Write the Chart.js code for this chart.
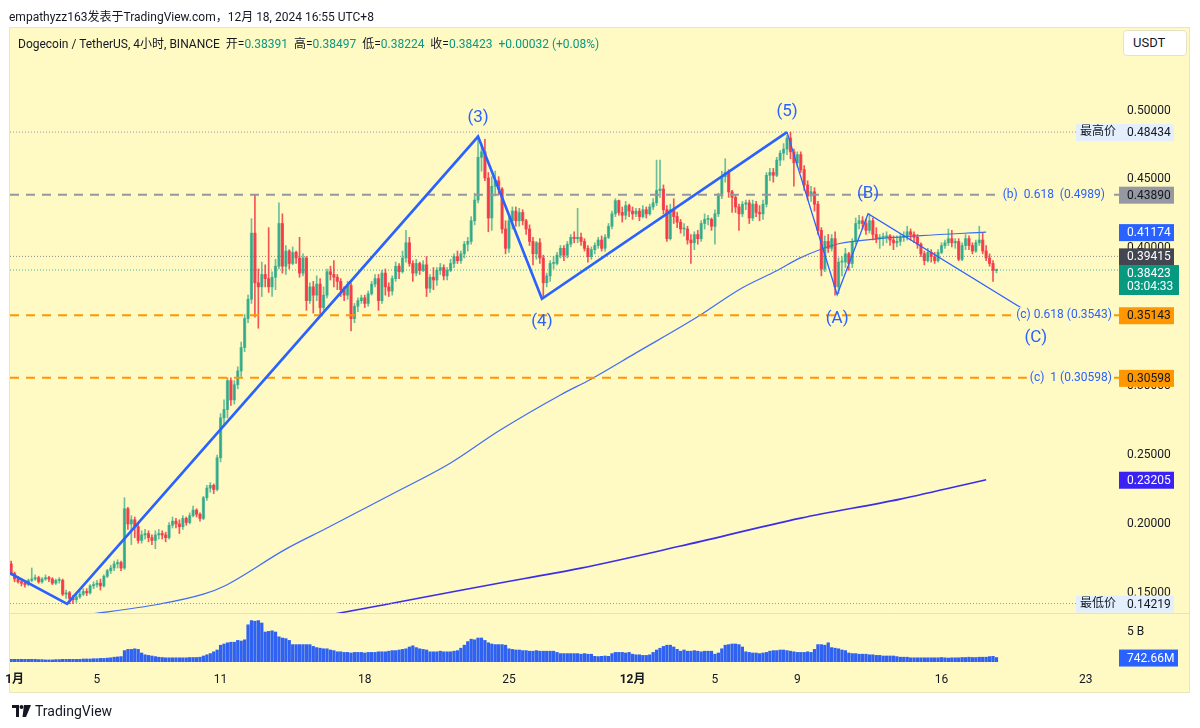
<!DOCTYPE html>
<html>
<head>
<meta charset="utf-8">
<script src="https://cdn.jsdelivr.net/npm/chart.js@4.4.1/dist/chart.umd.min.js"></script>
<style>
  body { margin: 0; width: 1200px; height: 728px; overflow: hidden; position: relative; background: #fff;
         font-family: Roboto, "Noto Sans CJK SC", sans-serif; color: #131722; }
  #chart { position: absolute; left: 0; top: 0; }
  .txt { position: absolute; white-space: nowrap; }
  .g { color: #089981; }
  #usdt { position: absolute; left: 1123px; top: 30px; width: 62px; height: 24px; background: #fff;
          border: 1px solid #e6e2c6; border-radius: 4px; font-size: 13px; line-height: 24px; text-indent: 9px; }
  #logo { position: absolute; left: 12px; top: 703px; font-size: 14px; display: flex; align-items: center; }
</style>
</head>
<body>
<canvas id="chart" width="1200" height="728"></canvas>
<div class="txt" style="left:9px;top:7px;font-size:12px;">empathyzz163发表于TradingView.com，12月 18, 2024 16:55 UTC+8</div>
<div class="txt" style="left:18px;top:34px;font-size:12px;">Dogecoin / TetherUS, 4小时, BINANCE&nbsp; 开=<span class="g">0.38391</span>&nbsp; 高=<span class="g">0.38497</span>&nbsp; 低=<span class="g">0.38224</span>&nbsp; 收=<span class="g">0.38423</span>&nbsp; <span class="g">+0.00032 (+0.08%)</span></div>
<div id="usdt">USDT</div>
<div id="logo">
  <svg width="19" height="12" viewBox="0 0 19 12"><path d="M0 0h7v12H4V3H0z" fill="#131722"/><circle cx="9.5" cy="2" r="2" fill="#131722"/><path d="M12 0h7l-5 12h-3.5z" fill="#131722"/></svg>
  <span style="margin-left:4px;">TradingView</span>
</div>
<script>
// 4小时K线 (索引0 = 10月31日 20:00, 之后每根+4h)
var FIRST_OPEN = 0.171;
var closes = [
  0.164,
  0.160, 0.158, 0.157, 0.156, 0.159, 0.160,
  0.161, 0.158, 0.160, 0.161, 0.160, 0.157,
  0.159, 0.159, 0.149, 0.150, 0.146, 0.145,
  0.147, 0.149, 0.151, 0.150, 0.155, 0.156,
  0.157, 0.155, 0.162, 0.166, 0.168, 0.171,
  0.172, 0.168, 0.211, 0.200, 0.203, 0.198,
  0.188, 0.192, 0.193, 0.190, 0.188, 0.192,
  0.193, 0.192, 0.190, 0.199, 0.202, 0.200,
  0.198, 0.204, 0.201, 0.206, 0.210, 0.207,
  0.204, 0.219, 0.226, 0.228, 0.225, 0.248,
  0.277, 0.283, 0.304, 0.290, 0.301, 0.311,
  0.328, 0.349, 0.363, 0.411, 0.375, 0.372,
  0.381, 0.378, 0.372, 0.379, 0.387, 0.418,
  0.387, 0.398, 0.389, 0.397, 0.393, 0.382,
  0.393, 0.362, 0.372, 0.366, 0.374, 0.357,
  0.366, 0.383, 0.381, 0.379, 0.376, 0.370,
  0.366, 0.373, 0.349, 0.358, 0.362, 0.364,
  0.360, 0.367, 0.374, 0.378, 0.362, 0.382,
  0.372, 0.369, 0.378, 0.387, 0.383, 0.393,
  0.404, 0.389, 0.382, 0.389, 0.384, 0.388,
  0.371, 0.379, 0.377, 0.384, 0.386, 0.380,
  0.384, 0.389, 0.394, 0.391, 0.396, 0.403,
  0.405, 0.420, 0.435, 0.466, 0.470, 0.451,
  0.422, 0.445, 0.449, 0.443, 0.414, 0.400,
  0.420, 0.427, 0.420, 0.426, 0.420, 0.414,
  0.405, 0.396, 0.404, 0.393, 0.375, 0.380,
  0.389, 0.389, 0.395, 0.400, 0.395, 0.403,
  0.408, 0.407, 0.408, 0.405, 0.400, 0.394,
  0.399, 0.402, 0.406, 0.400, 0.408, 0.416,
  0.425, 0.4346, 0.426, 0.424, 0.431, 0.427,
  0.425, 0.427, 0.423, 0.428, 0.425, 0.430,
  0.433, 0.442, 0.443, 0.428, 0.407, 0.428,
  0.423, 0.419, 0.414, 0.414, 0.406, 0.404,
  0.410, 0.407, 0.418, 0.421, 0.421, 0.416,
  0.425, 0.438, 0.452, 0.455, 0.441, 0.437,
  0.430, 0.425, 0.432, 0.433, 0.422, 0.432,
  0.426, 0.425, 0.432, 0.453, 0.455, 0.453,
  0.464, 0.469, 0.472, 0.480, 0.470, 0.462,
  0.468, 0.457, 0.446, 0.438, 0.441, 0.432,
  0.413, 0.385, 0.405, 0.400, 0.407, 0.372,
  0.390, 0.390, 0.396, 0.389, 0.405, 0.418,
  0.420, 0.418, 0.413, 0.420, 0.410, 0.407,
  0.408, 0.408, 0.409, 0.406, 0.404, 0.405,
  0.408, 0.409, 0.412, 0.410, 0.408, 0.403,
  0.396, 0.391, 0.397, 0.394, 0.391, 0.397,
  0.402, 0.404, 0.407, 0.404, 0.405, 0.392,
  0.402, 0.407, 0.402, 0.398, 0.404, 0.406,
  0.398, 0.393, 0.389, 0.38391, 0.38423
];
var highs = [
  0.173,
  0.165, 0.162, 0.160, 0.158, 0.160, 0.168,
  0.163, 0.162, 0.161, 0.163, 0.162, 0.161,
  0.160, 0.161, 0.160, 0.152, 0.151, 0.148,
  0.149, 0.151, 0.153, 0.153, 0.156, 0.158,
  0.159, 0.160, 0.163, 0.167, 0.170, 0.173,
  0.174, 0.173, 0.219, 0.212, 0.206, 0.205,
  0.200, 0.195, 0.196, 0.195, 0.192, 0.195,
  0.196, 0.195, 0.194, 0.201, 0.205, 0.204,
  0.203, 0.206, 0.205, 0.208, 0.213, 0.211,
  0.208, 0.220, 0.228, 0.230, 0.229, 0.250,
  0.280, 0.290, 0.306, 0.306, 0.304, 0.314,
  0.332, 0.352, 0.366, 0.4215, 0.4388, 0.385,
  0.390, 0.388, 0.415, 0.383, 0.392, 0.433,
  0.425, 0.402, 0.399, 0.401, 0.398, 0.408,
  0.396, 0.394, 0.375, 0.376, 0.380, 0.378,
  0.372, 0.385, 0.387, 0.391, 0.381, 0.378,
  0.372, 0.376, 0.375, 0.360, 0.364, 0.366,
  0.366, 0.369, 0.376, 0.381, 0.381, 0.384,
  0.385, 0.375, 0.380, 0.390, 0.389, 0.398,
  0.413, 0.408, 0.391, 0.392, 0.390, 0.391,
  0.394, 0.381, 0.386, 0.386, 0.389, 0.388,
  0.386, 0.392, 0.396, 0.398, 0.398, 0.405,
  0.408, 0.423, 0.440, 0.481, 0.476, 0.479,
  0.455, 0.452, 0.456, 0.452, 0.444, 0.420,
  0.423, 0.430, 0.430, 0.429, 0.428, 0.421,
  0.417, 0.408, 0.405, 0.407, 0.395, 0.382,
  0.391, 0.394, 0.397, 0.402, 0.402, 0.405,
  0.410, 0.412, 0.429, 0.411, 0.407, 0.402,
  0.401, 0.404, 0.408, 0.409, 0.410, 0.418,
  0.427, 0.436, 0.435, 0.430, 0.434, 0.432,
  0.430, 0.429, 0.429, 0.431, 0.430, 0.432,
  0.436, 0.464, 0.464, 0.446, 0.431, 0.432,
  0.436, 0.426, 0.421, 0.418, 0.416, 0.410,
  0.412, 0.413, 0.420, 0.425, 0.424, 0.422,
  0.428, 0.440, 0.456, 0.465, 0.457, 0.442,
  0.439, 0.432, 0.434, 0.435, 0.435, 0.435,
  0.434, 0.431, 0.435, 0.455, 0.458, 0.458,
  0.466, 0.471, 0.476, 0.482, 0.4843, 0.472,
  0.470, 0.470, 0.460, 0.449, 0.445, 0.444,
  0.434, 0.415, 0.409, 0.410, 0.410, 0.412,
  0.393, 0.394, 0.400, 0.397, 0.407, 0.422,
  0.424, 0.423, 0.421, 0.425, 0.422, 0.415,
  0.410, 0.411, 0.412, 0.410, 0.409, 0.409,
  0.410, 0.412, 0.416, 0.414, 0.412, 0.410,
  0.404, 0.398, 0.400, 0.399, 0.397, 0.399,
  0.404, 0.406, 0.414, 0.413, 0.407, 0.407,
  0.404, 0.410, 0.409, 0.404, 0.406, 0.416,
  0.411, 0.402, 0.396, 0.391, 0.38497
];
var lows = [
  0.163,
  0.158, 0.157, 0.155, 0.154, 0.155, 0.158,
  0.159, 0.157, 0.157, 0.159, 0.158, 0.156,
  0.156, 0.157, 0.148, 0.146, 0.142, 0.1422,
  0.143, 0.146, 0.148, 0.148, 0.149, 0.153,
  0.154, 0.152, 0.154, 0.161, 0.164, 0.166,
  0.168, 0.166, 0.167, 0.196, 0.185, 0.190,
  0.186, 0.186, 0.189, 0.187, 0.185, 0.182,
  0.189, 0.189, 0.187, 0.189, 0.197, 0.197,
  0.193, 0.196, 0.199, 0.200, 0.205, 0.205,
  0.202, 0.203, 0.217, 0.223, 0.222, 0.224,
  0.245, 0.272, 0.277, 0.286, 0.287, 0.298,
  0.307, 0.325, 0.346, 0.360, 0.350, 0.342,
  0.365, 0.372, 0.368, 0.365, 0.370, 0.385,
  0.382, 0.381, 0.385, 0.388, 0.389, 0.379,
  0.380, 0.355, 0.360, 0.353, 0.362, 0.351,
  0.355, 0.364, 0.377, 0.372, 0.370, 0.365,
  0.362, 0.363, 0.340, 0.346, 0.354, 0.360,
  0.357, 0.358, 0.366, 0.372, 0.355, 0.360,
  0.366, 0.365, 0.366, 0.376, 0.378, 0.382,
  0.390, 0.387, 0.376, 0.380, 0.381, 0.383,
  0.365, 0.368, 0.370, 0.373, 0.381, 0.377,
  0.377, 0.383, 0.386, 0.389, 0.389, 0.393,
  0.398, 0.403, 0.417, 0.433, 0.456, 0.449,
  0.412, 0.413, 0.438, 0.439, 0.411, 0.396,
  0.397, 0.414, 0.416, 0.416, 0.417, 0.410,
  0.402, 0.388, 0.392, 0.389, 0.365, 0.372,
  0.376, 0.385, 0.388, 0.393, 0.391, 0.393,
  0.401, 0.404, 0.404, 0.402, 0.398, 0.390,
  0.392, 0.396, 0.400, 0.398, 0.398, 0.407,
  0.414, 0.423, 0.424, 0.419, 0.421, 0.423,
  0.421, 0.423, 0.420, 0.422, 0.422, 0.424,
  0.428, 0.431, 0.437, 0.425, 0.405, 0.406,
  0.418, 0.415, 0.411, 0.409, 0.403, 0.389,
  0.399, 0.403, 0.405, 0.414, 0.417, 0.413,
  0.403, 0.423, 0.436, 0.448, 0.437, 0.426,
  0.426, 0.413, 0.423, 0.428, 0.418, 0.420,
  0.423, 0.420, 0.421, 0.430, 0.449, 0.448,
  0.452, 0.460, 0.464, 0.468, 0.465, 0.445,
  0.459, 0.455, 0.442, 0.435, 0.434, 0.427,
  0.410, 0.380, 0.383, 0.397, 0.398, 0.366,
  0.367, 0.380, 0.386, 0.384, 0.386, 0.403,
  0.414, 0.414, 0.410, 0.411, 0.406, 0.404,
  0.400, 0.402, 0.404, 0.402, 0.399, 0.401,
  0.402, 0.405, 0.406, 0.406, 0.404, 0.400,
  0.394, 0.388, 0.390, 0.390, 0.389, 0.390,
  0.396, 0.400, 0.402, 0.401, 0.400, 0.391,
  0.391, 0.399, 0.399, 0.396, 0.397, 0.402,
  0.396, 0.391, 0.387, 0.376, 0.38224
];
// 成交量 (单位: B)
var volumes = [
  0.45,
  0.45, 0.45, 0.45, 0.45, 0.45, 0.45,
  0.45, 0.40, 0.40, 0.35, 0.35, 0.35,
  0.40, 0.40, 0.45, 0.45, 0.45, 0.45,
  0.45, 0.45, 0.50, 0.50, 0.50, 0.55,
  0.55, 0.60, 0.60, 0.65, 0.70, 0.80,
  0.85, 0.90, 1.9, 2.1, 2.1, 2.2,
  2.1, 1.5, 1.2, 1.1, 1.0, 0.9,
  0.8, 0.75, 0.7, 0.7, 0.7, 0.7,
  0.7, 0.7, 0.7, 0.75, 0.75, 0.75,
  0.8, 1.0, 1.2, 1.4, 1.7, 2.0,
  2.8, 3.0, 3.2, 3.3, 3.3, 3.6,
  3.5, 3.7, 6.2, 6.9, 6.8, 6.9,
  6.5, 5.0, 5.1, 5.2, 5.0, 4.2,
  4.0, 3.9, 3.6, 2.9, 2.9, 2.9,
  2.9, 2.9, 2.9, 2.6, 2.4, 2.3,
  2.2, 2.2, 2.0, 1.9, 1.7, 1.7,
  1.6, 1.6, 1.5, 1.6, 1.6, 1.6,
  1.5, 1.6, 1.6, 1.6, 1.7, 1.7,
  1.7, 1.8, 1.9, 1.9, 2.0, 2.1,
  2.2, 2.5, 2.7, 2.4, 2.2, 2.1,
  2.0, 1.7, 1.7, 1.7, 1.8, 1.7,
  1.7, 1.7, 1.8, 1.9, 2.3, 2.8,
  3.4, 3.8, 3.7, 4.0, 4.0, 3.6,
  3.2, 3.0, 2.9, 2.9, 2.9, 2.8,
  2.2, 2.1, 2.0, 2.0, 1.9, 1.9,
  1.8, 1.8, 1.9, 1.8, 1.8, 1.8,
  1.8, 1.8, 1.6, 1.4, 1.4, 1.4,
  1.4, 1.4, 1.4, 1.3, 1.4, 1.3,
  1.3, 0.95, 0.9, 0.95, 1.0, 0.95,
  1.4, 1.6, 1.6, 1.6, 1.5, 1.6,
  1.3, 1.2, 1.2, 1.1, 1.1, 1.2,
  1.6, 2.0, 2.3, 2.6, 2.8, 2.8,
  2.5, 2.1, 1.8, 2.0, 1.8, 1.8,
  1.9, 1.8, 1.7, 1.8, 1.8, 1.8,
  1.3, 1.5, 2.2, 2.8, 2.9, 3.0,
  3.0, 2.9, 2.5, 1.7, 1.6, 1.5,
  1.5, 1.4, 1.5, 1.6, 1.8, 1.9,
  1.9, 2.0, 2.0, 1.9, 1.8, 1.7,
  1.6, 1.6, 1.6, 1.7, 1.6, 2.1,
  2.9, 2.9, 2.8, 3.2, 2.4, 2.3,
  2.2, 2.0, 1.9, 1.5, 1.4, 1.4,
  1.3, 1.3, 1.3, 1.2, 1.2, 1.1,
  1.1, 1.0, 1.0, 1.0, 1.0, 0.9,
  0.8, 0.8, 0.8, 0.7, 0.7, 0.7,
  0.7, 0.7, 0.7, 0.7, 0.7, 0.7,
  0.75, 0.7, 0.65, 0.7, 0.7, 0.7,
  0.75, 0.75, 0.8, 0.75, 0.75, 0.8,
  0.8, 0.8, 0.9, 0.95, 0.74266
];

// 时间轴刻度 (单位: 4小时K线序号, 0 = 11月1日 00:00)
var tickPos = [0, 24, 60, 102, 144, 180, 204, 228, 270, 312];
var tickText = ['1月', '5', '11', '18', '25', '12月', '5', '9', '16', '23'];
var priceTicks = [0.15, 0.20, 0.25, 0.30, 0.35, 0.40, 0.45, 0.50];

// 均线 (稀疏读点)
var ma1X = [13, 22, 42, 55, 61, 79, 91, 110, 127, 141, 159, 168, 181, 198, 212, 222, 229, 240, 252, 264, 283];
var ma1Y = [0.1315, 0.1345, 0.1417, 0.1490, 0.1548, 0.1817, 0.1970, 0.2217, 0.2442, 0.2674, 0.2936, 0.3052,
            0.3241, 0.3488, 0.3714, 0.3837, 0.3932, 0.4033, 0.4070, 0.4092, 0.41174];
var ma2X = [89, 93, 110, 130, 149, 165, 194, 229, 258, 283];
var ma2Y = [0.1323, 0.1345, 0.1424, 0.1519, 0.1606, 0.1679, 0.1839, 0.2042, 0.2180, 0.23205];

// 艾略特波浪
var waveX = [-1.34, 15.3, 135, 153.6, 225, 239.6, 248.6, 296];
var waveY = [0.1642, 0.1420, 0.4811, 0.3634, 0.4843, 0.3663, 0.4251, 0.3525];
var waveText = ['', '', '(3)', '(4)', '(5)', '(A)', '(B)', '(C)'];

// 水平价位
var LV_HIGH = 0.48434, LV_B = 0.43890, LV_MA1 = 0.41174, LV_PREV = 0.39415, LV_LAST = 0.38423;
var LV_C1 = 0.35143, LV_C2 = 0.30598, LV_MA2 = 0.23205, LV_LOW = 0.14219, VOL_LAST = 0.74266;
var fibText = ['(b)  0.618  (0.4989)', '(c) 0.618 (0.3543)', '(c)  1 (0.30598)'];

var X_MIN = -1.34, X_MAX = 321.7;
var Y_MIN = 0.09978, Y_MAX = 0.55987;
var FONT = 'Roboto, "Noto Sans CJK SC", sans-serif';
var UP = 'rgba(8,153,129,0.6)', DOWN = 'rgba(242,54,69,0.85)';
var PANE_CLIP = { left: 0, top: 0, right: 0, bottom: -49 };

var opens = closes.map(function(c, k) { return k === 0 ? FIRST_OPEN : closes[k - 1]; });
var candleColors = closes.map(function(c, k) { return c >= opens[k] ? UP : DOWN; });

function hline(v, color, width, dash, order) {
  return {
    type: 'line', data: [{ x: X_MIN, y: v }, { x: X_MAX, y: v }],
    borderColor: color, borderWidth: width, borderDash: dash,
    pointRadius: 0, order: order, clip: PANE_CLIP
  };
}

function tag(ctx, x, yTop, w, h, bg, fg, lines) {
  ctx.fillStyle = bg;
  ctx.fillRect(x, yTop, w, h);
  ctx.fillStyle = fg;
  ctx.textAlign = 'left';
  ctx.textBaseline = 'middle';
  ctx.font = '12px ' + FONT;
  lines.forEach(function(t, k) { ctx.fillText(t, x + 8, yTop + 9 + k * 13); });
}

var overlay = {
  id: 'overlay',
  beforeDraw: function(chart) {
    var ctx = chart.ctx;
    ctx.save();
    ctx.fillStyle = '#fff9c4';
    ctx.fillRect(9, 27, 1181, 666);
    ctx.strokeStyle = '#ece6bc';
    ctx.lineWidth = 1;
    ctx.strokeRect(9.5, 27.5, 1180, 665);
    var sep = chart.chartArea.bottom + PANE_CLIP.bottom + 0.5;
    ctx.strokeStyle = '#e4e0cc';
    ctx.beginPath(); ctx.moveTo(9, sep); ctx.lineTo(1190, sep); ctx.stroke();
    ctx.restore();
  },
  afterDatasetsDraw: function(chart) {
    var ctx = chart.ctx, xs = chart.scales.x, ys = chart.scales.y, yv = chart.scales.yv;
    var R = chart.chartArea.right;
    ctx.save();

    // 波浪标注
    ctx.font = '17px ' + FONT;
    ctx.fillStyle = '#2962ff';
    ctx.textAlign = 'center';
    ctx.textBaseline = 'middle';
    var offs = [0, 0, -19, 23, -20, 24, -20, 24];
    waveText.forEach(function(t, k) {
      if (!t) return;
      var dx = k === 7 ? 5 : 0;
      ctx.fillText(t, xs.getPixelForValue(waveX[k]) + dx, ys.getPixelForValue(waveY[k]) + offs[k]);
    });

    // 斐波那契文字
    ctx.font = '12px ' + FONT;
    ctx.textAlign = 'right';
    [[LV_B, 14], [LV_C1, 7], [LV_C2, 7]].forEach(function(p, k) {
      var y = ys.getPixelForValue(p[0]);
      var w = ctx.measureText(fibText[k]).width;
      ctx.fillStyle = '#fff9c4';
      ctx.fillRect(R - p[1] - w - 3, y - 8, w + 5, 16);
      ctx.fillStyle = '#2962ff';
      ctx.fillText(fibText[k], R - p[1], y);
    });

    // 右侧价格标签
    var yh = ys.getPixelForValue(LV_HIGH);
    ctx.fillStyle = '#e3effd';
    ctx.fillRect(R - 43, yh - 8, 43, 17);
    ctx.fillStyle = '#131722'; ctx.textAlign = 'center';
    ctx.fillText('最高价', R - 21, yh);
    tag(ctx, R, yh - 8, 55, 17, '#e3effd', '#131722', ['0.48434']);

    var yl = ys.getPixelForValue(LV_LOW);
    ctx.fillStyle = '#e3effd';
    ctx.fillRect(R - 43, yl - 8, 43, 17);
    ctx.fillStyle = '#131722'; ctx.textAlign = 'center';
    ctx.fillText('最低价', R - 21, yl);
    tag(ctx, R, yl - 8, 55, 17, '#e3effd', '#131722', ['0.14219']);

    tag(ctx, R, ys.getPixelForValue(LV_B) - 8, 55, 17, '#9598a1', '#131722', ['0.43890']);
    tag(ctx, R, ys.getPixelForValue(LV_MA1) - 8, 55, 17, '#2962ff', '#ffffff', ['0.41174']);
    tag(ctx, R, ys.getPixelForValue(LV_PREV) - 8, 55, 17, '#434651', '#ffffff', ['0.39415']);
    tag(ctx, R, ys.getPixelForValue(LV_LAST) - 5, 60, 30, '#089981', '#ffffff', ['0.38423', '03:04:33']);
    tag(ctx, R, ys.getPixelForValue(LV_C1) - 8, 55, 17, '#ff9800', '#131722', ['0.35143']);
    tag(ctx, R, ys.getPixelForValue(LV_C2) - 8, 55, 17, '#ff9800', '#131722', ['0.30598']);
    tag(ctx, R, ys.getPixelForValue(LV_MA2) - 8, 55, 17, '#3a22f5', '#ffffff', ['0.23205']);

    // 成交量轴
    ctx.fillStyle = '#131722'; ctx.textAlign = 'left'; ctx.textBaseline = 'middle';
    ctx.font = '12px ' + FONT;
    ctx.fillText('5 B', R + 8, yv.getPixelForValue(5));
    tag(ctx, R, yv.getPixelForValue(VOL_LAST) - 8, 59, 17, '#2962ff', '#ffffff', ['742.66M']);
    ctx.restore();
  }
};

new Chart(document.getElementById('chart'), {
  type: 'bar',
  data: {
    datasets: [
      {
        type: 'bar', yAxisID: 'yv',
        data: volumes.map(function(v, k) { return { x: k - 1, y: v }; }),
        backgroundColor: '#2f62f2', barThickness: 2.6, grouped: false, order: 20
      },
      {
        type: 'line', data: ma2X.map(function(x, k) { return { x: x, y: ma2Y[k] }; }),
        borderColor: '#3b2ee8', borderWidth: 1.6, pointRadius: 0, cubicInterpolationMode: 'monotone',
        order: 15, clip: PANE_CLIP
      },
      {
        type: 'line', data: ma1X.map(function(x, k) { return { x: x, y: ma1Y[k] }; }),
        borderColor: '#3d6ef5', borderWidth: 1.2, pointRadius: 0, cubicInterpolationMode: 'monotone',
        order: 14, clip: PANE_CLIP
      },
      hline(LV_HIGH, '#9598a1', 1, [1, 2], 12),
      hline(LV_LOW, '#9598a1', 1, [1, 2], 12),
      hline(LV_PREV, '#8a8a8a', 1, [1, 2], 12),
      hline(LV_LAST, '#3fb59c', 1, [1, 2], 12),
      {
        type: 'bar',
        data: closes.map(function(c, k) { return { x: k - 1, y: [lows[k], highs[k]] }; }),
        backgroundColor: candleColors, barThickness: 1, grouped: false, order: 9, clip: PANE_CLIP
      },
      {
        type: 'bar',
        data: closes.map(function(c, k) { return { x: k - 1, y: [opens[k], c] }; }),
        backgroundColor: candleColors, barThickness: 2.5, minBarLength: 1, grouped: false, order: 8, clip: PANE_CLIP
      },
      hline(LV_B, '#9598a1', 2, [9, 7], 6),
      hline(LV_C1, '#ff9800', 2, [9, 7], 6),
      hline(LV_C2, '#ff9800', 2, [9, 7], 6),
      {
        type: 'line', data: waveX.slice(4).map(function(x, k) { return { x: x, y: waveY[k + 4] }; }),
        borderColor: '#2962ff', borderWidth: 1.3, pointRadius: 0, tension: 0, order: 2, clip: PANE_CLIP
      },
      {
        type: 'line', data: waveX.slice(0, 5).map(function(x, k) { return { x: x, y: waveY[k] }; }),
        borderColor: '#2962ff', borderWidth: 2.6, pointRadius: 0, tension: 0, order: 1, clip: PANE_CLIP
      }
    ]
  },
  options: {
    responsive: false,
    devicePixelRatio: 1,
    animation: false,
    events: [],
    layout: { autoPadding: false, padding: { left: 10, top: 28, right: 10, bottom: 35 } },
    plugins: { legend: { display: false }, tooltip: { enabled: false } },
    scales: {
      x: {
        type: 'linear', min: X_MIN, max: X_MAX, offset: false,
        grid: { display: false, drawTicks: false }, border: { display: false },
        afterBuildTicks: function(s) { s.ticks = tickPos.map(function(v) { return { value: v }; }); },
        afterFit: function(s) { s.height = 31; s.paddingLeft = 0; s.paddingRight = 0; },
        ticks: {
          autoSkip: false, maxRotation: 0, padding: 11, color: '#131722',
          font: function(c) {
            var v = c.tick ? c.tick.value : -1;
            return { size: 12, family: FONT, weight: (v === 0 || v === 180) ? 'bold' : 'normal' };
          },
          callback: function(v) { return tickText[tickPos.indexOf(v)]; }
        }
      },
      y: {
        type: 'linear', position: 'right', min: Y_MIN, max: Y_MAX,
        grid: { display: false, drawTicks: false }, border: { display: false },
        afterBuildTicks: function(s) { s.ticks = priceTicks.map(function(v) { return { value: v }; }); },
        afterFit: function(s) { s.width = 71; s.paddingTop = 0; s.paddingBottom = 0; },
        ticks: {
          padding: 8, color: '#131722', font: { size: 12, family: FONT },
          callback: function(v) { return v.toFixed(5); }
        }
      },
      yv: { type: 'linear', display: false, min: 0, max: 105.67 }
    }
  },
  plugins: [overlay]
});
</script>
</body>
</html>
